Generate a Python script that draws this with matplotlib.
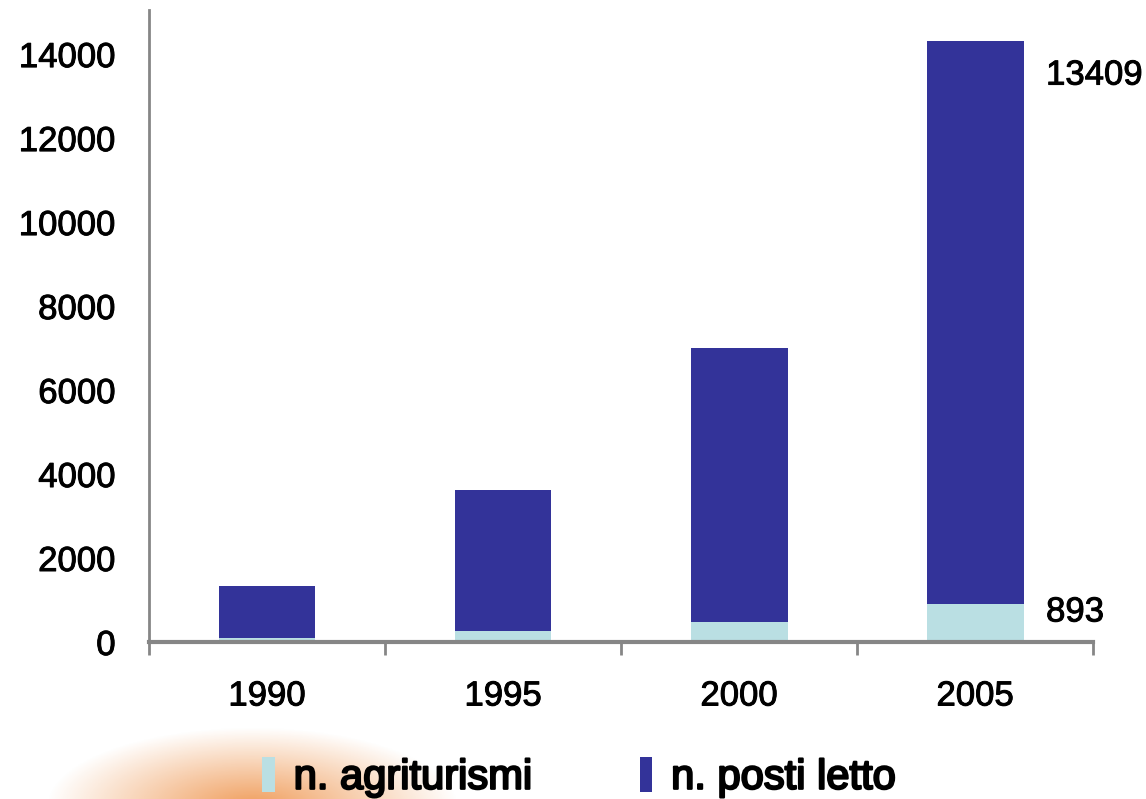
import matplotlib
matplotlib.use("Agg")
import matplotlib.pyplot as plt
import matplotlib.patheffects as pe
import numpy as np

# dati (lettura dal grafico)
anni = ["1990", "1995", "2000", "2005"]
agriturismi = [95, 262, 477, 893]
posti_letto = [1240, 3360, 6530, 13409]
yticks = [0, 2000, 4000, 6000, 8000, 10000, 12000, 14000]

blu = "#333399"
azzurro = "#BADFE3"
grigio = "#868686"

plt.rcParams["font.family"] = ["Liberation Sans", "DejaVu Sans"]

fig = plt.figure(figsize=(11.46, 7.99), dpi=100)
ax = fig.add_axes([0.130, 0.1965, 0.824, 0.791])

x = np.arange(len(anni))
b1 = ax.bar(x, agriturismi, width=0.41, color=azzurro, label="n. agriturismi")
b2 = ax.bar(x, posti_letto, width=0.41, bottom=agriturismi, color=blu, label="n. posti letto")

ax.set_xlim(-0.5, 3.5)
ax.set_ylim(0, 15050)
ax.set_yticks(yticks)
ax.set_xticks(x)
ax.set_xticklabels(anni)
ax.set_xticks(np.arange(-0.5, 4.0, 1.0), minor=True)

for s in ["top", "right"]:
    ax.spines[s].set_visible(False)
ax.spines["left"].set_color(grigio)
ax.spines["left"].set_linewidth(2)
ax.spines["bottom"].set_color(grigio)
ax.spines["bottom"].set_linewidth(3)

ax.tick_params(axis="y", length=0, pad=24, labelsize=25)
ax.tick_params(axis="x", which="major", length=0, pad=27, labelsize=25)
ax.tick_params(axis="x", which="minor", length=9, width=2, color=grigio, direction="out")

spesso = [pe.withStroke(linewidth=0.7, foreground="black")]
for t in ax.get_xticklabels() + ax.get_yticklabels():
    t.set_path_effects(spesso)

# etichette dei valori 2005
ax.text(3.3, 13500, str(posti_letto[-1]), fontsize=25, va="center", ha="left",
        clip_on=False, path_effects=spesso)
ax.text(3.3, 715, str(agriturismi[-1]), fontsize=25, va="center", ha="left",
        clip_on=False, path_effects=spesso)

leg = fig.legend(handles=[b1, b2], loc="center", bbox_to_anchor=(0.505, 0.027), ncol=2,
                 frameon=False, fontsize=30, handlelength=0.3, handleheight=0.9,
                 handletextpad=0.45, columnspacing=2.6)
for t in leg.get_texts():
    t.set_path_effects([pe.withStroke(linewidth=1.6, foreground="black")])

# macchia arancione decorativa in basso a sinistra
deco = fig.add_axes([0.0, 0.0, 0.40, 0.10], zorder=-1)
gx, gy = np.meshgrid(np.linspace(0, 1, 300), np.linspace(0, 1, 60))
d = np.sqrt(((gx - 0.55) / 0.45) ** 2 + ((gy + 0.1) / 1.0) ** 2)
alpha = 0.85 * np.clip(1.0 - d, 0, 1) ** 1.0
img = np.zeros((60, 300, 4))
img[..., 0] = 0.93
img[..., 1] = 0.55
img[..., 2] = 0.25
img[..., 3] = alpha
deco.imshow(img, origin="lower", aspect="auto", extent=[0, 1, 0, 1])
deco.axis("off")

fig.savefig("out.png", dpi=100)
